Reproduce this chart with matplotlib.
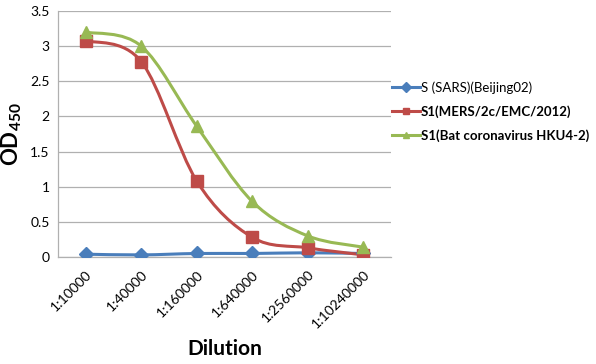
import matplotlib

matplotlib.use("Agg")
import matplotlib.pyplot as plt  # noqa: E402
import numpy as np  # noqa: E402
from matplotlib.path import Path  # noqa: E402
from matplotlib.patches import PathPatch  # noqa: E402
from matplotlib.lines import Line2D  # noqa: E402

plt.rcParams["font.family"] = ["Lato", "DejaVu Sans"]
plt.rcParams["mathtext.fontset"] = "custom"
plt.rcParams["mathtext.rm"] = "Lato"
plt.rcParams["mathtext.bf"] = "Lato:bold"

dilutions = ["1:10000", "1:40000", "1:160000", "1:640000", "1:2560000", "1:10240000"]
sars = [0.04, 0.03, 0.05, 0.05, 0.06, 0.05]
mers = [3.08, 2.78, 1.08, 0.28, 0.13, 0.03]
hku4 = [3.20, 3.00, 1.86, 0.79, 0.30, 0.14]

series = [
    ("S (SARS)(Beijing02)", sars, "#4A7EBB", "D", "normal"),
    ("S1(MERS/2c/EMC/2012)", mers, "#BE4B48", "s", "bold"),
    ("S1(Bat coronavirus HKU4-2)", hku4, "#98B954", "^", "bold"),
]


def smooth_path(x, y):
    """Excel-style smoothed line as cubic Bezier segments (Catmull-Rom controls)."""
    x = np.asarray(x, float)
    y = np.asarray(y, float)
    px = np.concatenate([[x[0]], x, [x[-1]]])
    py = np.concatenate([[y[0]], y, [y[-1]]])
    verts = [(x[0], y[0])]
    codes = [Path.MOVETO]
    for i in range(1, len(x)):
        c1 = (px[i] + (px[i + 1] - px[i - 1]) / 6, py[i] + (py[i + 1] - py[i - 1]) / 6)
        c2 = (px[i + 1] - (px[i + 2] - px[i]) / 6, py[i + 1] - (py[i + 2] - py[i]) / 6)
        verts += [c1, c2, (px[i + 1], py[i + 1])]
        codes += [Path.CURVE4] * 3
    return Path(verts, codes)


fig = plt.figure(figsize=(5.96, 3.64), dpi=100)
ax = fig.add_axes([58 / 596, 107 / 364, 333 / 596, 246 / 364])

x = np.arange(len(dilutions))
handles = []
for label, vals, color, marker, weight in series:
    ax.add_patch(PathPatch(smooth_path(x, vals), facecolor="none", edgecolor=color,
                           lw=2.2, zorder=3))
    ax.plot(x, vals, ls="none", marker=marker, ms=8 if marker != "D" else 7,
            color=color, zorder=4)
    handles.append(Line2D([], [], color=color, lw=2.2, marker=marker, ms=5))

ax.set_xlim(-0.5, len(dilutions) - 0.5)
ax.set_ylim(0, 3.5)
ax.set_yticks(np.arange(0, 3.51, 0.5))
ax.set_yticklabels(["0", "0.5", "1", "1.5", "2", "2.5", "3", "3.5"])
ax.set_xticks(x)
ax.set_xticklabels(dilutions, rotation=45, ha="right", rotation_mode="anchor")
ax.tick_params(axis="both", length=0, labelsize=10, colors="#000000", pad=6)
ax.tick_params(axis="x", pad=8)
ax.grid(axis="y", color="#b0b0b0", lw=0.9)
ax.set_axisbelow(True)
for side in ["top", "right"]:
    ax.spines[side].set_visible(False)
for side in ["left", "bottom"]:
    ax.spines[side].set_color("#b0b0b0")
    ax.spines[side].set_linewidth(0.9)

ax.set_ylabel(r"$\mathbf{OD_{450}}$", fontsize=16, va="center")
ax.yaxis.set_label_coords(-0.138, 0.5)
ax.set_xlabel("Dilution", fontsize=15, fontweight="bold", labelpad=6)

leg = ax.legend(handles, [s[0] for s in series], loc="upper left",
                bbox_to_anchor=(0.995, 0.725), frameon=False, fontsize=9.5,
                handlelength=2.1, handletextpad=0.1, labelspacing=0.85,
                borderaxespad=0.2, borderpad=0.0)
for txt, s in zip(leg.get_texts(), series):
    txt.set_fontweight(s[4])

fig.savefig("out.png", dpi=100)
